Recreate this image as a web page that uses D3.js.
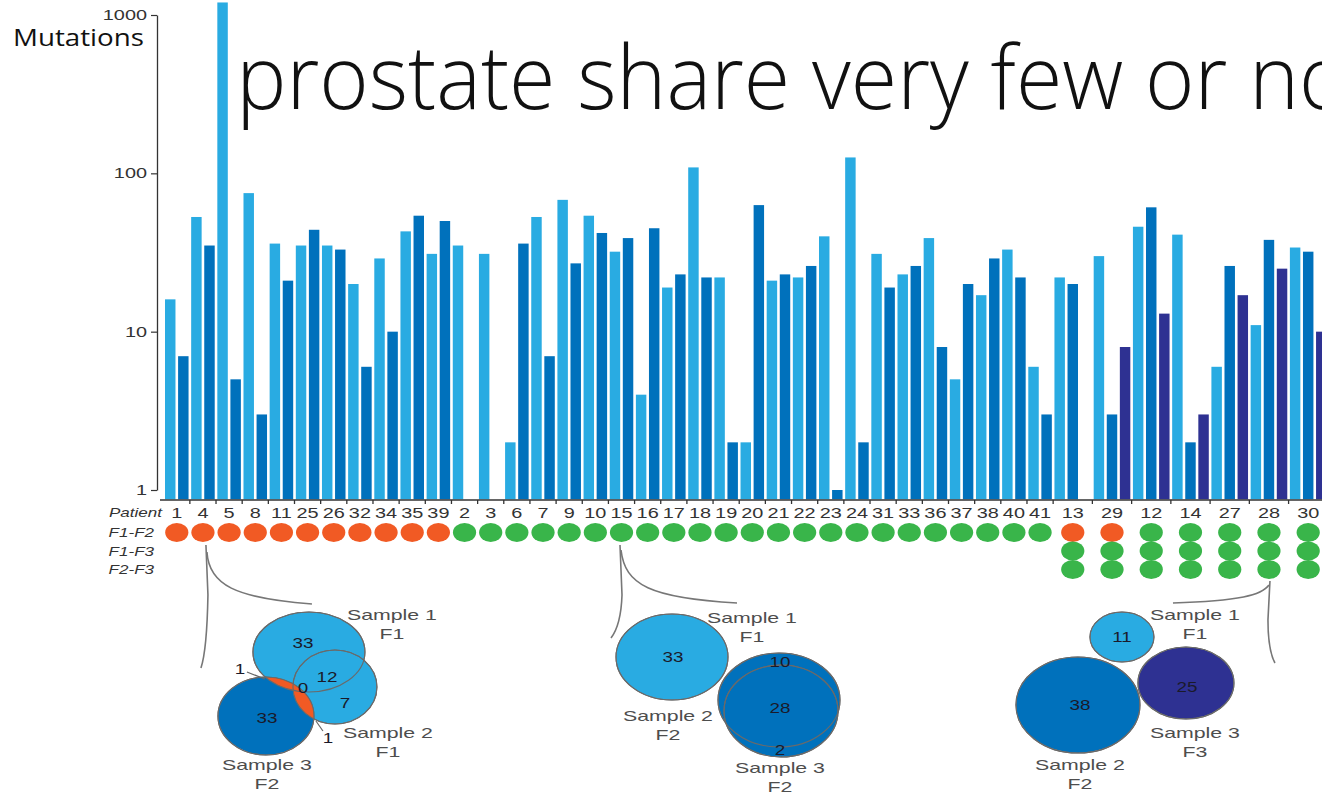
<!DOCTYPE html>
<html>
<head>
<meta charset="utf-8">
<script src="https://cdn.jsdelivr.net/npm/d3@7"></script>
<style>
  html, body { margin: 0; padding: 0; background: #fff; overflow: hidden; }
  svg { display: block; }
</style>
</head>
<body>
<svg id="chart" width="1322" height="795"></svg>
<script>
// ---- data -------------------------------------------------------------
const patients = ["1","4","5","8","11","25","26","32","34","35","39","2","3","6","7","9","10","15","16","17","18","19","20","21","22","23","24","31","33","36","37","38","40","41","13","29","12","14","27","28","30"];

// mutations per sample (log scale); null = no bar
const sampleF1 = [16,53,1200,75,36,35,35,20,29,43,31,35,31,2,53,68,54,32,4,19,109,22,2,21,22,40,126,31,23,39,5,17,33,6,22,30,46,41,6,11,34];
const sampleF2 = [7,35,5,3,21,44,33,6,10,54,50,null,null,36,7,27,42,39,45,23,22,2,63,23,26,1,2,19,26,8,20,29,22,3,20,3,61,2,26,38,32];
const sampleF3 = [null,null,null,null,null,null,null,null,null,null,null,null,null,null,null,null,null,null,null,null,null,null,null,null,null,null,null,null,null,null,null,null,null,null,null,8,13,3,17,25,10];

// pairwise comparisons between foci (null = comparison not available)
const pairF1F2 = ["shared","shared","shared","shared","shared","shared","shared","shared","shared","shared","shared","distinct","distinct","distinct","distinct","distinct","distinct","distinct","distinct","distinct","distinct","distinct","distinct","distinct","distinct","distinct","distinct","distinct","distinct","distinct","distinct","distinct","distinct","distinct","shared","shared","distinct","distinct","distinct","distinct","distinct"];
const pairF1F3 = [null,null,null,null,null,null,null,null,null,null,null,null,null,null,null,null,null,null,null,null,null,null,null,null,null,null,null,null,null,null,null,null,null,null,"distinct","distinct","distinct","distinct","distinct","distinct","distinct"];
const pairF2F3 = [null,null,null,null,null,null,null,null,null,null,null,null,null,null,null,null,null,null,null,null,null,null,null,null,null,null,null,null,null,null,null,null,null,null,"distinct","distinct","distinct","distinct","distinct","distinct","distinct"];

const yTicks = [1, 10, 100, 1000];
const rowLabels = ["F1-F2", "F1-F3", "F2-F3"];
const titleText = "prostate share very few or no";
const yTitle = "Mutations";

// Venn diagram counts for three example patients
const vennPatients = ["4", "15", "28"];
const venn4Counts  = [33, 12, 0, 7, 33, 1, 1];
const venn15Counts = [33, 10, 28, 2];
const venn28Counts = [11, 38, 25];
const venn4Labels  = [["Sample 1","F1"], ["Sample 2","F1"], ["Sample 3","F2"]];
const venn15Labels = [["Sample 1","F1"], ["Sample 2","F2"], ["Sample 3","F2"]];
const venn28Labels = [["Sample 1","F1"], ["Sample 3","F3"], ["Sample 2","F2"]];

// ---- styling / layout ---------------------------------------------------
const C = {
  light: "#29abe2", dark: "#0071bc", purple: "#2e3192",
  orange: "#f15a24", green: "#39b54a",
  axis: "#333", text: "#333", venText: "#4d4d4d", venNum: "#1a1a2a", outline: "#6a6a6a"
};
const sampleColors = [C.light, C.dark, C.purple];
const pairColor = { shared: C.orange, distinct: C.green };
const SX = 1.42;              // horizontal stretch of the figure lettering
const FONT = "'Liberation Sans', Arial, sans-serif";

const svg = d3.select("#chart");

// ---- scales ---------------------------------------------------------------
const y = d3.scaleLog().domain([1, 1000]).range([490, 15]);
const baseline = 499.3;

const slots = [];
patients.forEach((p, i) => {
  const n = pairF1F3[i] == null ? 2 : 3;
  const vals = [sampleF1[i], sampleF2[i], sampleF3[i]];
  for (let s = 0; s < n; s++) slots.push({ key: p + "-" + s, patient: p, idx: i, sample: s, value: vals[s] });
});
const step = 13.08, x0 = 163.7;
const x = d3.scaleBand()
  .domain(slots.map(d => d.key))
  .range([x0, x0 + slots.length * step])
  .paddingInner(0.2).paddingOuter(0.1);
const bw = x.bandwidth();

const groups = patients.map((p, i) => {
  const ks = slots.filter(s => s.idx === i);
  const first = x(ks[0].key), last = x(ks[ks.length - 1].key);
  return { patient: p, idx: i, left: first - (x.step() - bw) / 2, center: (first + last + bw) / 2 };
});
const centerOf = p => groups.find(g => g.patient === p).center;

// helper: horizontally stretched text
function stext(parent, px, py, str, opt = {}) {
  const sx = opt.sx || SX;
  return parent.append("text")
    .attr("transform", `translate(${px},${py}) scale(${sx},1)`)
    .attr("text-anchor", opt.anchor || "middle")
    .attr("dominant-baseline", opt.baseline || "auto")
    .attr("font-family", opt.family || FONT)
    .attr("font-size", opt.size || 14)
    .attr("font-style", opt.style || "normal")
    .attr("font-weight", opt.weight || "normal")
    .attr("fill", opt.fill || C.text)
    .text(str);
}

// ---- title text -------------------------------------------------------------
const title = svg.append("text")
  .attr("font-family", "'Open Sans', sans-serif")
  .attr("font-weight", 300)
  .attr("font-size", 88)
  .attr("fill", "#111")
  .text(titleText);
const titleSx = 554 / title.node().getSubStringLength(0, 14);
title.attr("transform", `translate(${243 - 7 * titleSx},109) scale(${titleSx},1)`);

const yt = svg.append("text")
  .attr("font-family", "'Open Sans', sans-serif")
  .attr("font-size", 23)
  .attr("fill", "#111")
  .text(yTitle);
const ytSx = 131 / yt.node().getComputedTextLength();
yt.attr("transform", `translate(13,46) scale(${ytSx},1)`);

// ---- bars -------------------------------------------------------------------
svg.append("g").selectAll("rect")
  .data(slots.filter(d => d.value != null))
  .join("rect")
  .attr("x", d => x(d.key))
  .attr("y", d => y(d.value))
  .attr("width", bw)
  .attr("height", d => baseline - y(d.value))
  .attr("fill", d => sampleColors[d.sample]);

// ---- y axis -----------------------------------------------------------------
const yAxis = svg.append("g")
  .attr("transform", "translate(157,0)")
  .call(d3.axisLeft(y).tickValues(yTicks).tickFormat(d3.format("d")).tickSize(6).tickSizeOuter(0));
yAxis.select(".domain").attr("stroke", C.axis).attr("stroke-width", 1.3);
yAxis.selectAll(".tick line").attr("stroke", C.axis).attr("stroke-width", 1.2);
yAxis.selectAll(".tick text")
  .attr("x", -10 / SX)
  .attr("transform", `scale(${SX},1)`)
  .attr("font-family", FONT).attr("font-size", 14).attr("fill", C.text);

// ---- x axis -----------------------------------------------------------------
const xAxis = svg.append("g");
xAxis.append("line")
  .attr("x1", 160).attr("x2", 1322).attr("y1", 500).attr("y2", 500)
  .attr("stroke", C.axis).attr("stroke-width", 1.4);
xAxis.selectAll("line.tk").data(groups.slice(1)).join("line")
  .attr("class", "tk")
  .attr("x1", d => d.left).attr("x2", d => d.left)
  .attr("y1", 500).attr("y2", 504)
  .attr("stroke", C.axis).attr("stroke-width", 1.3);
groups.forEach(g => stext(xAxis, g.center, 518, g.patient, { size: 14 }));

// row labels
stext(svg, 162, 517, "Patient", { anchor: "end", style: "italic", size: 12 });
rowLabels.forEach((r, k) => stext(svg, 154, 537 + k * 18.5, r, { anchor: "end", style: "italic", size: 12 }));

// ---- comparison dots ------------------------------------------------------------
const dotRows = [pairF1F2, pairF1F3, pairF2F3];
const dots = svg.append("g");
dotRows.forEach((row, k) => {
  dots.selectAll(null)
    .data(groups.filter(g => row[g.idx] != null))
    .join("ellipse")
    .attr("cx", g => g.center)
    .attr("cy", 532.5 + k * 18.5)
    .attr("rx", 11.6).attr("ry", 9.4)
    .attr("fill", g => pairColor[row[g.idx]]);
});

// ---- Venn diagrams (offsets relative to each patient's column) -----------------
const vennLayouts = [
  {
    counts: venn4Counts, labels: venn4Labels,
    ellipses: [
      { dx: 106, cy: 652, rx: 56, ry: 40, fill: C.light },
      { dx: 132, cy: 687, rx: 42, ry: 37, fill: C.light },
      { dx: 63,  cy: 716, rx: 48, ry: 39, fill: C.dark }
    ],
    overlap: { of: 2, within: [0, 1], fill: C.orange },
    nums: [[100, 643], [124, 677], [100, 688], [142, 703], [64, 718], [37, 669], [125, 738]],
    leaders: [[44, 672, 62, 679], [113, 721, 120, 731]],
    labelPos: [[189, 615], [185, 733], [64, 765]],
    connA: [[3, 545], [5, 595], [4, 650], [-2, 668]],
    connB: [[4, 552], [6, 585], [32, 598], [109, 604]]
  },
  {
    counts: venn15Counts, labels: venn15Labels,
    ellipses: [
      { dx: 50.5,  cy: 657, rx: 56, ry: 43, fill: C.light },
      { dx: 157.5, cy: 700, rx: 61, ry: 47, fill: C.dark },
      { dx: 159.5, cy: 711, rx: 57, ry: 46, fill: C.dark }
    ],
    nums: [[51.5, 657], [158.5, 662], [158.5, 708], [158.5, 750]],
    leaders: [],
    labelPos: [[130.5, 618], [46.5, 716], [158.5, 768]],
    connA: [[-1.5, 545], [0.5, 595], [-0.5, 625], [-10.5, 638]],
    connB: [[-0.5, 550], [3.5, 585], [28.5, 598], [115.5, 603]]
  },
  {
    counts: venn28Counts, labels: venn28Labels,
    ellipses: [
      { dx: -147, cy: 637, rx: 32, ry: 25, fill: C.light },
      { dx: -191, cy: 705, rx: 62, ry: 48, fill: C.dark },
      { dx: -83,  cy: 683, rx: 48, ry: 36, fill: C.purple }
    ],
    nums: [[-147, 637], [-189, 705], [-82, 687]],
    leaders: [],
    labelPos: [[-74, 615], [-74, 733], [-189, 765]],
    connA: [[1, 581], [-1, 620], [-1, 650], [6, 663]],
    connB: [[0, 585], [-7, 595], [-29, 601], [-96, 603]]
  }
];

const defs = svg.append("defs");
vennLayouts.forEach((v, vi) => {
  const ax = centerOf(vennPatients[vi]);
  const g = svg.append("g");

  // connector from the comparison dot down to the diagram
  const pa = d3.path();
  pa.moveTo(ax + v.connA[0][0], v.connA[0][1]);
  pa.lineTo(ax + v.connA[1][0], v.connA[1][1]);
  pa.quadraticCurveTo(ax + v.connA[2][0], v.connA[2][1], ax + v.connA[3][0], v.connA[3][1]);
  const pb = d3.path();
  pb.moveTo(ax + v.connB[0][0], v.connB[0][1]);
  pb.bezierCurveTo(ax + v.connB[1][0], v.connB[1][1], ax + v.connB[2][0], v.connB[2][1], ax + v.connB[3][0], v.connB[3][1]);
  [pa, pb].forEach(p => g.append("path").attr("d", p.toString())
    .attr("fill", "none").attr("stroke", "#777").attr("stroke-width", 1.6));

  // filled sets
  v.ellipses.forEach(e => g.append("ellipse")
    .attr("cx", ax + e.dx).attr("cy", e.cy).attr("rx", e.rx).attr("ry", e.ry)
    .attr("fill", e.fill).attr("stroke", C.outline).attr("stroke-width", 1.1));

  // mutations shared between foci
  if (v.overlap) {
    const id = "ov" + vi;
    const cp = defs.append("clipPath").attr("id", id);
    v.overlap.within.forEach(k => {
      const e = v.ellipses[k];
      cp.append("ellipse").attr("cx", ax + e.dx).attr("cy", e.cy).attr("rx", e.rx).attr("ry", e.ry);
    });
    const e = v.ellipses[v.overlap.of];
    g.append("ellipse")
      .attr("cx", ax + e.dx).attr("cy", e.cy).attr("rx", e.rx).attr("ry", e.ry)
      .attr("fill", v.overlap.fill).attr("clip-path", `url(#${id})`);
  }

  // outlines on top so every boundary shows
  v.ellipses.forEach(e => g.append("ellipse")
    .attr("cx", ax + e.dx).attr("cy", e.cy).attr("rx", e.rx).attr("ry", e.ry)
    .attr("fill", "none").attr("stroke", C.outline).attr("stroke-width", 1.1));

  v.leaders.forEach(l => g.append("line")
    .attr("x1", ax + l[0]).attr("y1", l[1]).attr("x2", ax + l[2]).attr("y2", l[3])
    .attr("stroke", "#666").attr("stroke-width", 1.2));

  v.counts.forEach((c, k) => stext(g, ax + v.nums[k][0], v.nums[k][1], String(c),
    { size: 14.5, baseline: "central", fill: C.venNum, sx: 1.3 }));

  v.labels.forEach((lab, k) => {
    stext(g, ax + v.labelPos[k][0], v.labelPos[k][1], lab[0], { size: 15, baseline: "central", fill: C.venText });
    stext(g, ax + v.labelPos[k][0], v.labelPos[k][1] + 19, lab[1], { size: 15, baseline: "central", fill: C.venText });
  });
});
</script>
</body>
</html>
